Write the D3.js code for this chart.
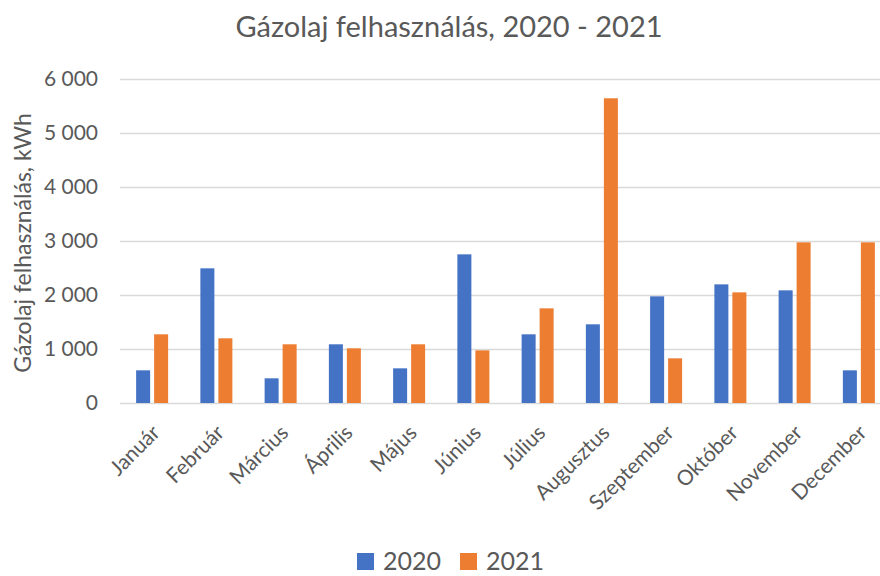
<!DOCTYPE html>
<html>
<head>
<meta charset="utf-8">
<script src="https://cdn.jsdelivr.net/npm/d3@7"></script>
<style>
	body { margin: 0; background: #fff; }
	svg { display: block; font-family: Lato, "Open Sans", sans-serif; }
	.grid line { stroke: #d9d9d9; stroke-width: 1.5; }
	.grid .domain { display: none; }
	.lbl { fill: #595959; }
</style>
</head>
<body>
<div class="mainviz"></div>
<script>
var months = ["Január","Február","Március","Április","Május","Június","Július","Augusztus","Szeptember","Október","November","December"];
var years = ["2020","2021"];
var values2020 = [605, 2494, 457, 1087, 642, 2753, 1272, 1457, 1975, 2197, 2086, 605];
var values2021 = [1272, 1198, 1087, 1013, 1087, 975, 1753, 5643, 827, 2049, 2975, 2975];
var yTicks = [0, 1000, 2000, 3000, 4000, 5000, 6000];
var colors = ["#4472C4", "#ED7D31"];

var width = 880, height = 576;
var margin = { top: 79, right: -11, bottom: 173, left: 120 };
var plotW = width - margin.left - margin.right,
	plotH = height - margin.top - margin.bottom;

var svg = d3.select(".mainviz").append("svg")
	.attr("width", width)
	.attr("height", height);

var data = months.map(function(m, i){ return { month: m, v: [values2020[i], values2021[i]] }; });

var x = d3.scaleBand()
	.domain(months)
	.range([0, plotW]);

var y = d3.scaleLinear()
	.domain([0, 6000])
	.range([plotH, 0]);

var barW = 14, gap = 4;
var fmt = function(d){ return d3.format(",")(d).replace(/,/g, " "); };

var chartGroup = svg.append("g")
	.attr("transform", "translate(" + margin.left + "," + margin.top + ")");

// gridlines
chartGroup.append("g")
	.attr("class", "grid")
	.call(d3.axisLeft(y).tickValues(yTicks).tickSize(-plotW).tickFormat(""));

// y labels
chartGroup.selectAll("text.ytick")
	.data(yTicks)
	.enter().append("text")
	.attr("class", "ytick lbl")
	.attr("x", -22)
	.attr("y", function(d){ return y(d); })
	.attr("dy", "0.35em")
	.attr("text-anchor", "end")
	.style("font-size", "21px")
	.text(fmt);

// bars
var groups = chartGroup.selectAll("g.month")
	.data(data)
	.enter().append("g")
	.attr("class", "month")
	.attr("transform", function(d){ return "translate(" + (x(d.month) + x.bandwidth() / 2) + ",0)"; });

groups.selectAll("rect")
	.data(function(d){ return d.v; })
	.enter().append("rect")
	.attr("x", function(d, i){ return i === 0 ? -barW - gap / 2 : gap / 2; })
	.attr("y", function(d){ return y(d); })
	.attr("width", barW)
	.attr("height", function(d){ return plotH - y(d); })
	.attr("fill", function(d, i){ return colors[i]; });

// x labels
chartGroup.selectAll("text.xtick")
	.data(months)
	.enter().append("text")
	.attr("class", "xtick lbl")
	.attr("text-anchor", "end")
	.attr("transform", function(d){ return "translate(" + (x(d) + x.bandwidth() / 2 + 9) + "," + (plotH + 31) + ") rotate(-45)"; })
	.style("font-size", "21px")
	.text(function(d){ return d; });

// title
svg.append("text")
	.attr("class", "lbl")
	.attr("x", 449)
	.attr("y", 37)
	.attr("text-anchor", "middle")
	.style("font-size", "29px")
	.text("Gázolaj felhasználás, 2020 - 2021");

// y axis title
svg.append("text")
	.attr("class", "lbl")
	.attr("transform", "translate(31,243) rotate(-90)")
	.attr("text-anchor", "middle")
	.style("font-size", "23px")
	.text("Gázolaj felhasználás, kWh");

// legend
var legend = svg.append("g").attr("transform", "translate(357,570)");
var item = legend.selectAll("g")
	.data(years)
	.enter().append("g")
	.attr("transform", function(d, i){ return "translate(" + (i * 103) + ",0)"; });
item.append("rect")
	.attr("x", 0).attr("y", -17)
	.attr("width", 17).attr("height", 17)
	.attr("fill", function(d, i){ return colors[i]; });
item.append("text")
	.attr("class", "lbl")
	.attr("x", 26)
	.attr("y", 0)
	.style("font-size", "25px")
	.text(function(d){ return d; });
</script>
</body>
</html>
